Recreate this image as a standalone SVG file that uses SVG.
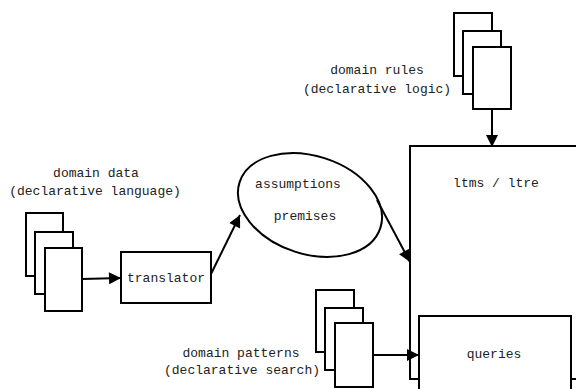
<svg xmlns="http://www.w3.org/2000/svg" width="576" height="389" viewBox="0 0 576 389">
<style>
.s{fill:#fff;stroke:#000;stroke-width:2}
.t{font-family:"Liberation Mono","DejaVu Sans Mono",monospace;font-size:13px;fill:#222;text-anchor:middle}
.c{fill:none;stroke:#000;stroke-width:2}
</style>
<defs>
<marker id="ah" viewBox="0 0 10 10" refX="10" refY="5" markerWidth="13" markerHeight="12" orient="auto" markerUnits="userSpaceOnUse">
<path d="M0,0 L10,5 L0,10 z" fill="#000"/>
</marker>
</defs>
<rect width="576" height="389" fill="#fff"/>
<g id="ltms">
<rect class="s" x="410" y="146" width="180" height="233"/>
<text class="t" x="496" y="187">ltms / ltre</text>
</g>
<g id="queries">
<rect class="s" x="419" y="316" width="152" height="90"/>
<text class="t" x="494" y="358">queries</text>
</g>
<g id="rules">
<rect class="s" x="454" y="13" width="38" height="63"/>
<rect class="s" x="463" y="31" width="38" height="63"/>
<rect class="s" x="473" y="47" width="38" height="62"/>
<text class="t" x="377" y="74">domain rules</text>
<text class="t" x="377" y="93">(declarative logic)</text>
</g>
<g id="data">
<rect class="s" x="26" y="213" width="37" height="63"/>
<rect class="s" x="35" y="232" width="38" height="62"/>
<rect class="s" x="45" y="248" width="37" height="63"/>
<text class="t" x="96" y="177">domain data</text>
<text class="t" x="95" y="195">(declarative language)</text>
</g>
<g id="translator">
<rect class="s" x="121" y="252" width="90" height="51"/>
<text class="t" x="166" y="282">translator</text>
</g>
<g id="assumptions">
<ellipse class="s" cx="310" cy="205" rx="74" ry="49" transform="rotate(18 310 205)"/>
<text class="t" x="298" y="188">assumptions</text>
<text class="t" x="305" y="220">premises</text>
</g>
<g id="patterns">
<rect class="s" x="316" y="290" width="38" height="62"/>
<rect class="s" x="325" y="308" width="38" height="62"/>
<rect class="s" x="335" y="323" width="38" height="64"/>
<text class="t" x="241" y="357">domain patterns</text>
<text class="t" x="242" y="374">(declarative search)</text>
</g>
<g id="connectors">
<line class="c" x1="492" y1="109" x2="492" y2="147" marker-end="url(#ah)"/>
<line class="c" x1="82" y1="279" x2="121" y2="278" marker-end="url(#ah)"/>
<line class="c" x1="211" y1="274" x2="240" y2="215" marker-end="url(#ah)"/>
<line class="c" x1="377" y1="200" x2="410" y2="262" marker-end="url(#ah)"/>
<line class="c" x1="373" y1="355" x2="419" y2="355" marker-end="url(#ah)"/>
</g>
</svg>
